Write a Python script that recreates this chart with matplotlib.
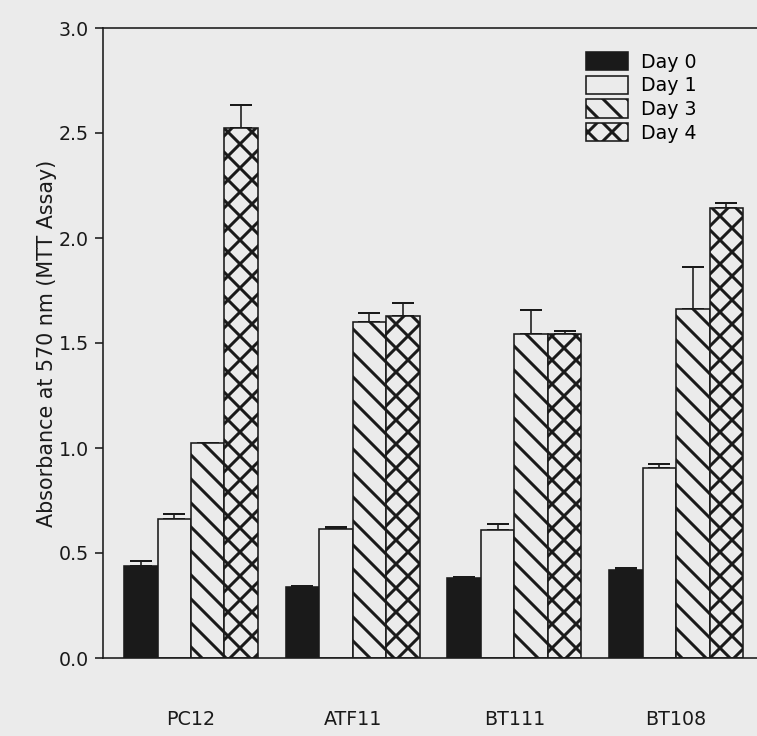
import numpy as np
import matplotlib
matplotlib.use("Agg")
from matplotlib import pyplot as plt

# MTT absorbance per cell line, mean and upper error
lignees = ["PC12", "ATF11", "BT111", "BT108"]
jours = ["Day 0", "Day 1", "Day 3", "Day 4"]

moy_j0 = [0.438, 0.336, 0.379, 0.418]
moy_j1 = [0.664, 0.614, 0.608, 0.905]
moy_j3 = [1.026, 1.602, 1.541, 1.664]
moy_j4 = [2.522, 1.627, 1.542, 2.145]

err_j0 = [0.023, 0.008, 0.009, 0.010]
err_j1 = [0.024, 0.009, 0.032, 0.021]
err_j3 = [0.0, 0.041, 0.117, 0.200]
err_j4 = [0.110, 0.064, 0.014, 0.024]

moyennes = [moy_j0, moy_j1, moy_j3, moy_j4]
erreurs = [err_j0, err_j1, err_j3, err_j4]

fond = "#ebebeb"
noir = "#1a1a1a"
couleurs = [noir, fond, fond, fond]
motifs = [None, None, "\\\\", "xx"]

plt.rcParams["font.family"] = ["DejaVu Sans"]
plt.rcParams["hatch.linewidth"] = 1.5
plt.rcParams["hatch.color"] = noir

fig = plt.figure(figsize=(757 / 144, 736 / 144), dpi=144, facecolor=fond)
ax = fig.add_axes([103 / 757, 78 / 736, 654 / 757, 630 / 736])
ax.set_facecolor(fond)

x = np.arange(len(lignees))
larg = 0.207
for k in range(4):
    pos = x + (k - 1.5) * larg
    bas = np.zeros(len(lignees))
    ax.bar(pos, moyennes[k], width=larg, color=couleurs[k], edgecolor=noir,
           linewidth=0.8, hatch=motifs[k], label=jours[k], zorder=2)
    ax.errorbar(pos, moyennes[k], yerr=[bas, erreurs[k]], fmt="none",
                ecolor=noir, elinewidth=0.8, capsize=5.5, capthick=1.0, zorder=1)

ax.set_xlim(-0.544, 3.5)
ax.set_ylim(0, 3.0)
ax.set_yticks(np.arange(0, 3.01, 0.5))
ax.set_yticklabels(["%.1f" % v for v in np.arange(0, 3.01, 0.5)])
ax.set_xticks(x)
ax.set_xticklabels(lignees)
ax.tick_params(axis="x", length=0, pad=26, labelsize=9.5, colors=noir)
ax.tick_params(axis="y", direction="out", length=4, width=0.8, pad=3,
               labelsize=9.5, colors=noir)
for c in ["left", "top", "bottom"]:
    ax.spines[c].set_linewidth(0.8)
    ax.spines[c].set_color(noir)
ax.spines["right"].set_visible(False)

ax.set_ylabel("Absorbance at 570 nm (MTT Assay)", fontsize=10.3, color=noir)
ax.yaxis.set_label_coords(-0.07, 0.5)

ax.legend(loc="upper left", bbox_to_anchor=(0.7385, 0.962), frameon=False,
          fontsize=9.5, borderpad=0, borderaxespad=0, handlelength=2.2,
          handleheight=1.1, labelspacing=0.22, handletextpad=0.7)

fig.savefig("out.png", dpi=144, facecolor=fond)
